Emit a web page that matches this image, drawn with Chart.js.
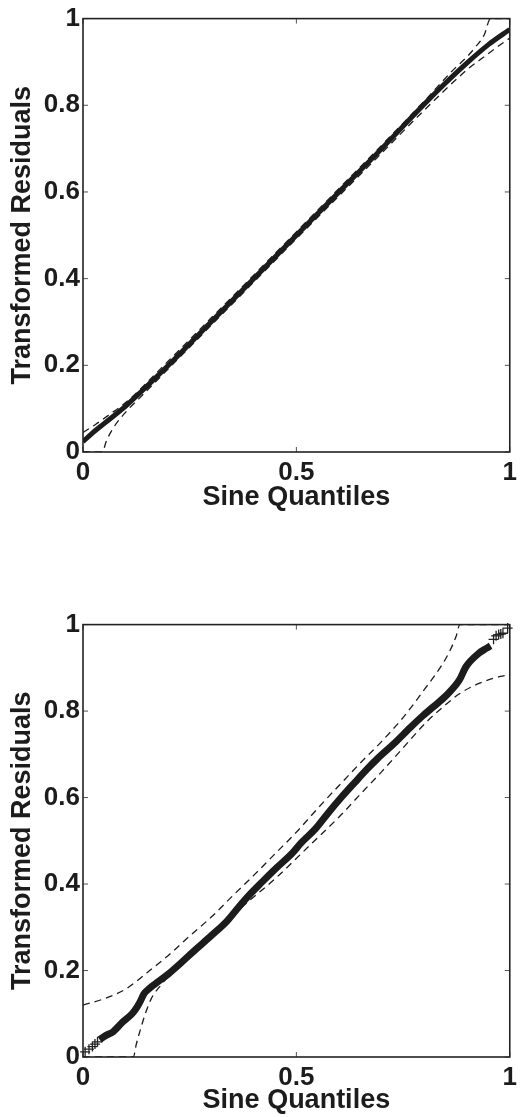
<!DOCTYPE html>
<html>
<head>
<meta charset="utf-8">
<title>Transformed residuals vs sine quantiles</title>
<script src="https://cdn.jsdelivr.net/npm/chart.js@4.4.0/dist/chart.umd.min.js"></script>
<style>
  body { margin: 0; background: #fff; overflow: hidden; }
  canvas { position: absolute; left: 0; }
  #topPlot { top: 0; }
  #bottomPlot { top: 606px; }
</style>
</head>
<body>
<canvas id="topPlot" width="522" height="522"></canvas>
<canvas id="bottomPlot" width="522" height="511"></canvas>
<script>
// upper panel: residual curve and its two confidence bounds
const topQuantiles = [0, 0.02, 0.05, 0.1, 0.15, 0.2, 0.3, 0.4, 0.5, 0.6, 0.7, 0.8, 0.85, 0.9, 0.95, 1];
const topResiduals = [0.024, 0.042, 0.066, 0.106, 0.152, 0.2, 0.3, 0.4, 0.5, 0.6, 0.7, 0.803, 0.852, 0.898, 0.94, 0.975];
const topUpperX = [0, 0.03, 0.06, 0.1, 0.2, 0.3, 0.4, 0.5, 0.6, 0.7, 0.8, 0.87, 0.9, 0.92, 0.94, 0.955, 1];
const topUpperY = [0.045, 0.064, 0.085, 0.114, 0.21, 0.309, 0.408, 0.508, 0.608, 0.708, 0.81, 0.884, 0.912, 0.935, 0.962, 1.0, 1.0];
const topLowerX = [0, 0.045, 0.055, 0.07, 0.1, 0.13, 0.2, 0.3, 0.4, 0.5, 0.6, 0.7, 0.8, 0.9, 0.94, 0.97, 1];
const topLowerY = [0, 0, 0.026, 0.054, 0.092, 0.122, 0.192, 0.292, 0.392, 0.492, 0.591, 0.69, 0.789, 0.882, 0.912, 0.934, 0.955];

// lower panel
const botQuantiles = [0.039, 0.054, 0.07, 0.093, 0.115, 0.127, 0.135, 0.142, 0.155, 0.169, 0.2, 0.23, 0.261, 0.3, 0.338, 0.365,
  0.391, 0.42, 0.453, 0.491, 0.51, 0.545, 0.575, 0.605, 0.637, 0.665, 0.69, 0.729, 0.767, 0.795, 0.821, 0.851, 0.882,
  0.897, 0.928, 0.945, 0.955];
const botResiduals = [0.04, 0.05, 0.058, 0.081, 0.1, 0.116, 0.13, 0.145, 0.158, 0.169, 0.192, 0.218, 0.246, 0.28, 0.315, 0.347,
  0.376, 0.405, 0.437, 0.472, 0.494, 0.528, 0.565, 0.6, 0.635, 0.665, 0.69, 0.725, 0.762, 0.788, 0.81, 0.836, 0.872,
  0.902, 0.934, 0.945, 0.951];
const botTailLowX = [0.005, 0.014, 0.022, 0.028, 0.034];
const botTailLowY = [0.012, 0.018, 0.024, 0.03, 0.035];
const botTailHighX = [0.962, 0.968, 0.974, 0.979, 0.984, 0.995];
const botTailHighY = [0.966, 0.974, 0.977, 0.978, 0.98, 0.992];
const botUpperX = [0, 0.05, 0.1, 0.15, 0.2, 0.25, 0.3, 0.35, 0.4, 0.45, 0.5, 0.55, 0.6, 0.65, 0.7, 0.75, 0.8, 0.84, 0.86, 0.875, 0.883, 1];
const botUpperY = [0.12, 0.135, 0.157, 0.195, 0.235, 0.28, 0.323, 0.372, 0.42, 0.47, 0.52, 0.575, 0.628, 0.68, 0.73, 0.785, 0.85, 0.905, 0.94, 0.975, 1.0, 1.0];
const botLowerX = [0, 0.118, 0.125, 0.135, 0.146, 0.16, 0.185, 0.223, 0.26, 0.3, 0.376, 0.453, 0.537, 0.6, 0.652, 0.7, 0.75, 0.805, 0.85, 0.882, 0.928, 0.978, 1];
const botLowerY = [0, 0, 0.03, 0.065, 0.1, 0.135, 0.169, 0.212, 0.25, 0.285, 0.35, 0.415, 0.495, 0.555, 0.61, 0.66, 0.715, 0.775, 0.815, 0.84, 0.864, 0.88, 0.884];

const xTicks = [0, 0.5, 1];
const yTicks = [0, 0.2, 0.4, 0.6, 0.8, 1];

const ink = '#1c1c1c';
const labelFont = { family: 'Liberation Sans, Arial, sans-serif', size: 26, weight: 'bold' };
const titleFont = { family: 'Liberation Sans, Arial, sans-serif', size: 27, weight: 'bold' };

function pts(xs, ys) {
  return xs.map((x, i) => ({ x: x, y: ys[i] }));
}

function dashed(xs, ys) {
  return {
    data: pts(xs, ys), showLine: true, pointRadius: 0,
    borderColor: ink, borderWidth: 1.3, borderDash: [7, 5],
    cubicInterpolationMode: 'monotone', clip: 0
  };
}

// box around the plot plus short inward ticks on every side
const boxTicks = {
  id: 'boxTicks',
  afterDraw(chart) {
    const { ctx, chartArea: a, scales } = chart;
    ctx.save();
    ctx.strokeStyle = '#555';
    ctx.lineWidth = 1;
    ctx.beginPath();
    xTicks.forEach(v => {
      const px = scales.x.getPixelForValue(v);
      ctx.moveTo(px, a.bottom); ctx.lineTo(px, a.bottom - 5);
      ctx.moveTo(px, a.top); ctx.lineTo(px, a.top + 5);
    });
    yTicks.forEach(v => {
      const py = scales.y.getPixelForValue(v);
      ctx.moveTo(a.left, py); ctx.lineTo(a.left + 5, py);
      ctx.moveTo(a.right, py); ctx.lineTo(a.right - 5, py);
    });
    ctx.stroke();
    ctx.strokeStyle = '#222';
    ctx.lineWidth = 1.6;
    ctx.strokeRect(a.left, a.top, a.right - a.left, a.bottom - a.top);
    ctx.restore();
  }
};

function makePlot(id, datasets, axisHeight, titlePad) {
  return new Chart(document.getElementById(id), {
    type: 'scatter',
    data: { datasets: datasets },
    options: {
      responsive: false,
      animation: false,
      layout: { autoPadding: false, padding: { top: 16, right: 4, left: 0, bottom: 0 } },
      plugins: { legend: { display: false }, tooltip: { enabled: false } },
      scales: {
        x: {
          type: 'linear', min: 0, max: 1,
          afterBuildTicks: s => { s.ticks = xTicks.map(v => ({ value: v })); },
          afterFit: s => { s.height = axisHeight; },
          grid: { display: false, drawTicks: false },
          border: { display: false },
          ticks: { color: ink, font: labelFont, padding: 5, maxRotation: 0, autoSkip: false,
                   callback: v => String(+v.toFixed(1)) },
          title: { display: true, text: 'Sine Quantiles', color: ink, font: titleFont,
                   padding: { top: 0, bottom: titlePad } }
        },
        y: {
          type: 'linear', min: 0, max: 1,
          afterBuildTicks: s => { s.ticks = yTicks.map(v => ({ value: v })); },
          afterFit: s => { s.width = 83; },
          grid: { display: false, drawTicks: false },
          border: { display: false },
          ticks: { color: ink, font: labelFont, padding: 3, autoSkip: false,
                   callback: v => String(+v.toFixed(1)) },
          title: { display: true, text: 'Transformed Residuals', color: ink, font: titleFont,
                   padding: { top: 6, bottom: 0 } }
        }
      }
    },
    plugins: [boxTicks]
  });
}

makePlot('topPlot', [
  dashed(topUpperX, topUpperY),
  dashed(topLowerX, topLowerY),
  {
    data: pts(topQuantiles, topResiduals), showLine: true, pointRadius: 0,
    borderColor: ink, borderWidth: 5, cubicInterpolationMode: 'monotone', clip: 0
  }
], 70, 8);

makePlot('bottomPlot', [
  dashed(botUpperX, botUpperY),
  dashed(botLowerX, botLowerY),
  {
    data: pts(botQuantiles, botResiduals), showLine: true, pointRadius: 0,
    borderColor: ink, borderWidth: 7, cubicInterpolationMode: 'monotone', clip: 0
  },
  {
    data: pts(botTailLowX, botTailLowY).concat(pts(botTailHighX, botTailHighY)),
    showLine: false, pointStyle: 'cross', pointRadius: 5, borderWidth: 1.3,
    pointBorderColor: '#222', clip: false
  }
], 60, 0);
</script>
</body>
</html>
